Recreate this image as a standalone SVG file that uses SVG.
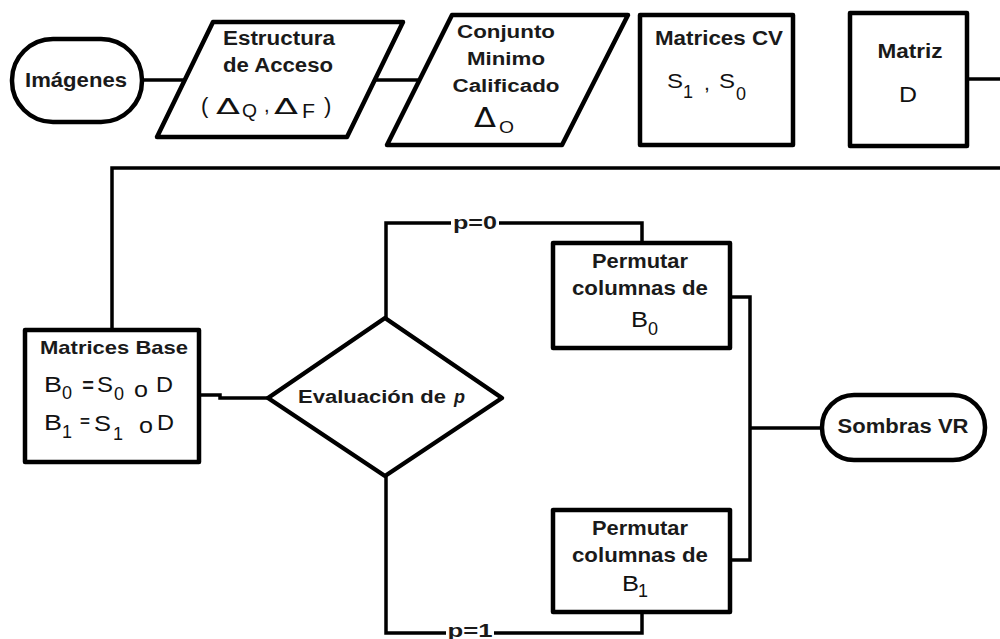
<svg xmlns="http://www.w3.org/2000/svg" width="1000" height="639" viewBox="0 0 1000 639">
  <style>
    .shape { fill: #ffffff; stroke: #000000; stroke-width: 4.5; stroke-linejoin: round; }
    .wire { fill: none; stroke: #000000; stroke-width: 3.5; stroke-linejoin: miter; }
    .lbl { font-family: "Liberation Sans", Arial, sans-serif; font-weight: bold; fill: #1a1a1a; text-anchor: middle; }
    .lbl.start { text-anchor: start; }
    .math { font-family: "Liberation Sans", Arial, sans-serif; font-weight: normal; fill: #111111; }
    .delta { font-family: "DejaVu Sans", "Liberation Sans", sans-serif; font-weight: normal; fill: #111111; }
  </style>
  <rect width="1000" height="639" fill="#ffffff"/>

  <!-- connectors -->
  <g id="connectors">
    <path class="wire" d="M142 80 H184"/>
    <path class="wire" d="M375 80 H420"/>
    <path class="wire" d="M967 79 H1000"/>
    <path class="wire" d="M1000 168 H112 V330"/>
    <path class="wire" d="M200 395 H220 V398 H268"/>
    <path class="wire" d="M386 318 V223 H451"/>
    <path class="wire" d="M499 223 H642 V243"/>
    <path class="wire" d="M386 476 V633 H446"/>
    <path class="wire" d="M494 633 H642 V612"/>
    <path class="wire" d="M730 297 H750 V560 H730"/>
    <path class="wire" d="M750 428 H822"/>
    <text class="lbl" x="475" y="229" font-size="19" textLength="44" lengthAdjust="spacingAndGlyphs">p=0</text>
    <text class="lbl" x="470" y="637" font-size="19" textLength="45" lengthAdjust="spacingAndGlyphs">p=1</text>
  </g>

  <!-- start terminal -->
  <g id="imagenes">
    <rect class="shape" x="12" y="39" width="130" height="83" rx="41" ry="41"/>
    <text class="lbl" x="76" y="87" font-size="21" textLength="102" lengthAdjust="spacingAndGlyphs">Imágenes</text>
  </g>

  <!-- access structure -->
  <g id="estructura">
    <polygon class="shape" points="213,22 403,22 347,137 157,137"/>
    <text class="lbl" x="279" y="45" font-size="20" textLength="112" lengthAdjust="spacingAndGlyphs">Estructura</text>
    <text class="lbl" x="278" y="72" font-size="20" textLength="110" lengthAdjust="spacingAndGlyphs">de Acceso</text>
    <text class="math" x="201" y="113" font-size="22">(</text>
    <text class="delta" x="216" y="114" font-size="22" textLength="24" lengthAdjust="spacingAndGlyphs">Δ</text>
    <text class="math" x="242" y="117" font-size="19" textLength="15" lengthAdjust="spacingAndGlyphs">Q</text>
    <text class="math" x="264" y="112" font-size="20">,</text>
    <text class="delta" x="274" y="114" font-size="22" textLength="24" lengthAdjust="spacingAndGlyphs">Δ</text>
    <text class="math" x="302" y="118" font-size="21" textLength="13" lengthAdjust="spacingAndGlyphs">F</text>
    <text class="math" x="324" y="113" font-size="22">)</text>
  </g>

  <!-- minimal qualified set -->
  <g id="conjunto">
    <polygon class="shape" points="452,15 628,15 562,145 387,145"/>
    <text class="lbl" x="506" y="38" font-size="18" textLength="98" lengthAdjust="spacingAndGlyphs">Conjunto</text>
    <text class="lbl" x="506" y="65" font-size="18" textLength="78" lengthAdjust="spacingAndGlyphs">Minimo</text>
    <text class="lbl" x="506" y="92" font-size="18" textLength="107" lengthAdjust="spacingAndGlyphs">Calificado</text>
    <text class="delta" x="474" y="127" font-size="26" textLength="22" lengthAdjust="spacingAndGlyphs">Δ</text>
    <text class="math" x="499" y="133" font-size="16" textLength="15" lengthAdjust="spacingAndGlyphs">O</text>
  </g>

  <!-- CV matrices -->
  <g id="matrices-cv">
    <rect class="shape" x="640" y="15" width="153" height="130"/>
    <text class="lbl" x="719" y="45" font-size="20" textLength="128" lengthAdjust="spacingAndGlyphs">Matrices CV</text>
    <text class="math" x="667" y="88" font-size="21" textLength="16" lengthAdjust="spacingAndGlyphs">S</text>
    <text class="math" x="683" y="98" font-size="18">1</text>
    <text class="math" x="704" y="90" font-size="21">,</text>
    <text class="math" x="719" y="88" font-size="21" textLength="16" lengthAdjust="spacingAndGlyphs">S</text>
    <text class="math" x="736" y="100" font-size="18">0</text>
  </g>

  <!-- matrix D -->
  <g id="matriz-d">
    <rect class="shape" x="850" y="13" width="117" height="133"/>
    <text class="lbl" x="910" y="58" font-size="20" textLength="65" lengthAdjust="spacingAndGlyphs">Matriz</text>
    <text class="math" x="899" y="102" font-size="22" textLength="18" lengthAdjust="spacingAndGlyphs">D</text>
  </g>

  <!-- base matrices -->
  <g id="matrices-base">
    <rect class="shape" x="25" y="330" width="174" height="132"/>
    <text class="lbl" x="114" y="354" font-size="19" textLength="148" lengthAdjust="spacingAndGlyphs">Matrices Base</text>
    <text class="math" x="44" y="392" font-size="22" textLength="18" lengthAdjust="spacingAndGlyphs">B</text>
    <text class="math" x="62" y="399" font-size="18">0</text>
    <text class="lbl" x="88" y="392" font-size="20">=</text>
    <text class="math" x="97" y="392" font-size="22" textLength="16" lengthAdjust="spacingAndGlyphs">S</text>
    <text class="math" x="114" y="400" font-size="18">0</text>
    <text class="math" x="134" y="397" font-size="22" textLength="14" lengthAdjust="spacingAndGlyphs">o</text>
    <text class="math" x="156" y="392" font-size="22" textLength="17" lengthAdjust="spacingAndGlyphs">D</text>
    <text class="math" x="44" y="430" font-size="22" textLength="18" lengthAdjust="spacingAndGlyphs">B</text>
    <text class="math" x="62" y="438" font-size="18">1</text>
    <text class="lbl" x="85" y="427" font-size="17">=</text>
    <text class="math" x="94" y="431" font-size="22" textLength="17" lengthAdjust="spacingAndGlyphs">S</text>
    <text class="math" x="113" y="440" font-size="18">1</text>
    <text class="math" x="139" y="433" font-size="22" textLength="14" lengthAdjust="spacingAndGlyphs">o</text>
    <text class="math" x="157" y="430" font-size="22" textLength="17" lengthAdjust="spacingAndGlyphs">D</text>
  </g>

  <!-- decision -->
  <g id="evaluacion">
    <polygon class="shape" points="268,398 385,318 502,398 385,476"/>
    <text class="lbl start" x="298" y="403" font-size="18" textLength="148" lengthAdjust="spacingAndGlyphs">Evaluación de</text>
    <text class="lbl start" x="454" y="403" font-size="18" font-style="italic">p</text>
  </g>

  <!-- permute B0 -->
  <g id="permutar-b0">
    <rect class="shape" x="553" y="243" width="177" height="105"/>
    <text class="lbl" x="640" y="268" font-size="20" textLength="96" lengthAdjust="spacingAndGlyphs">Permutar</text>
    <text class="lbl" x="640" y="295" font-size="20" textLength="136" lengthAdjust="spacingAndGlyphs">columnas de</text>
    <text class="math" x="631" y="327" font-size="22" textLength="17" lengthAdjust="spacingAndGlyphs">B</text>
    <text class="math" x="648" y="335" font-size="18">0</text>
  </g>

  <!-- permute B1 -->
  <g id="permutar-b1">
    <rect class="shape" x="553" y="510" width="177" height="102"/>
    <text class="lbl" x="640" y="535" font-size="20" textLength="96" lengthAdjust="spacingAndGlyphs">Permutar</text>
    <text class="lbl" x="640" y="562" font-size="20" textLength="136" lengthAdjust="spacingAndGlyphs">columnas de</text>
    <text class="math" x="622" y="591" font-size="22" textLength="17" lengthAdjust="spacingAndGlyphs">B</text>
    <text class="math" x="638" y="597" font-size="18">1</text>
  </g>

  <!-- end terminal -->
  <g id="sombras-vr">
    <rect class="shape" x="822" y="395" width="163" height="65" rx="32" ry="32"/>
    <text class="lbl" x="903" y="433" font-size="20" textLength="131" lengthAdjust="spacingAndGlyphs">Sombras VR</text>
  </g>
</svg>
